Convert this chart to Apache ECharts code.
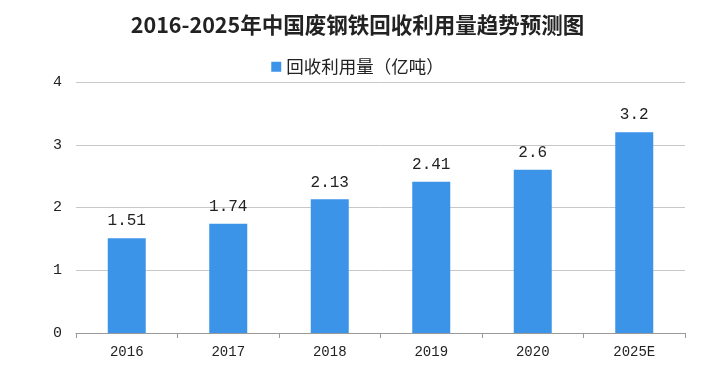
<!DOCTYPE html>
<html><head><meta charset="utf-8">
<script src="https://cdn.jsdelivr.net/npm/echarts@6/dist/echarts.min.js"></script>
<style>html,body{margin:0;padding:0;background:#fff}#c{width:715px;height:370px}</style>
</head><body><div id="c"></div>
<script>
const categories = ['2016', '2017', '2018', '2019', '2020', '2025E'];
const values = [1.51, 1.74, 2.13, 2.41, 2.6, 3.2];
const seriesName = '回收利用量（亿吨）';
const titleText = '2016-2025年中国废钢铁回收利用量趋势预测图';

const chart = echarts.init(document.getElementById('c'));
chart.setOption({
  animation: false,
  backgroundColor: '#fff',
  title: {
    text: titleText, left: 'center', top: 9,
    textStyle: { fontFamily: '"Noto Sans CJK SC", serif', fontSize: 21.5, fontWeight: 'bold', color: '#222' }
  },
  legend: {
    data: [seriesName], top: 53, left: 'center', icon: 'rect',
    itemWidth: 10, itemHeight: 10, itemGap: 4,
    textStyle: { fontFamily: '"Noto Sans CJK SC"', fontSize: 17.5, color: '#222' }
  },
  grid: { left: 76, right: 30, top: 82, bottom: 37 },
  xAxis: {
    type: 'category', data: categories,
    axisLine: { lineStyle: { color: '#999' } },
    axisTick: { show: true, length: 5, lineStyle: { color: '#999' } },
    axisLabel: { color: '#222', fontFamily: '"Liberation Mono", monospace', fontSize: 14, margin: 12 }
  },
  yAxis: {
    type: 'value', min: 0, max: 4, interval: 1,
    axisLine: { show: false }, axisTick: { show: false },
    axisLabel: { color: '#222', fontFamily: '"Liberation Mono", monospace', fontSize: 15, margin: 14 },
    splitLine: { lineStyle: { color: '#c8c8c8' } }
  },
  series: [{
    name: seriesName, type: 'bar', data: values, barWidth: 38,
    itemStyle: { color: '#3b94e8' },
    label: { show: true, position: 'top', distance: 9, color: '#222',
      fontFamily: '"Liberation Mono", monospace', fontSize: 16 }
  }]
});
</script></body></html>
